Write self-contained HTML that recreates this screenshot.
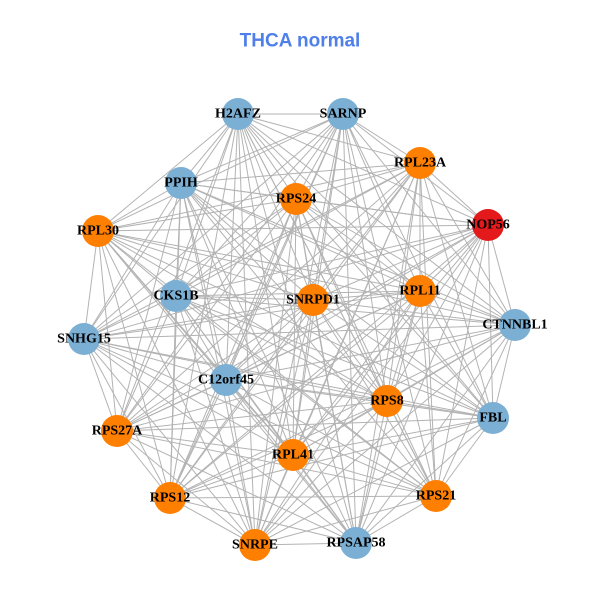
<!DOCTYPE html>
<html><head><meta charset="utf-8"><style>
html,body{margin:0;padding:0;background:#fff;}
svg text{font-family:"Liberation Serif",serif;font-weight:bold;font-size:14px;fill:#000;text-anchor:middle;dominant-baseline:central;}
</style></head><body>
<svg id="s" width="600" height="600" viewBox="0 0 600 600" xmlns="http://www.w3.org/2000/svg">
<rect width="600" height="600" fill="#fff"/>
<text x="300" y="41" style="font-family:'Liberation Sans',sans-serif;font-size:19px;fill:#4F7FE8;">THCA normal</text>
<g id="edges" stroke="#b3b3b3" stroke-width="1"></g>
<g id="nodes"></g>
<g>
<text x="238" y="114">H2AFZ</text>
<text x="343" y="114">SARNP</text>
<text x="420" y="163">RPL23A</text>
<text x="181" y="183">PPIH</text>
<text x="296" y="199">RPS24</text>
<text x="488" y="225">NOP56</text>
<text x="98" y="231">RPL30</text>
<text x="176" y="296">CKS1B</text>
<text x="313" y="300">SNRPD1</text>
<text x="420" y="291">RPL11</text>
<text x="515" y="325">CTNNBL1</text>
<text x="84" y="339">SNHG15</text>
<text x="226" y="380">C12orf45</text>
<text x="387" y="401">RPS8</text>
<text x="493" y="418">FBL</text>
<text x="117" y="431">RPS27A</text>
<text x="293" y="455">RPL41</text>
<text x="436" y="496">RPS21</text>
<text x="170" y="498">RPS12</text>
<text x="255" y="545">SNRPE</text>
<text x="356" y="543">RPSAP58</text>
</g>
</svg>
<script>
var B="#7BAFD4",O="#FF7F00",R="#E3191C";
var N=[[238,114,B],[343,114,B],[420,163,O],[181,183,B],[296,199,O],[488,225,R],[98,231,O],[176,296,B],[313,300,O],[420,291,O],[515,325,B],[84,339,B],[226,380,B],[387,401,O],[493,418,B],[117,431,O],[293,455,O],[436,496,O],[170,498,O],[255,545,O],[356,543,B]];
var ns="http://www.w3.org/2000/svg",E=document.getElementById("edges"),G=document.getElementById("nodes");
for(var i=0;i<N.length;i++)for(var j=i+1;j<N.length;j++){var l=document.createElementNS(ns,"line");l.setAttribute("x1",N[i][0]);l.setAttribute("y1",N[i][1]);l.setAttribute("x2",N[j][0]);l.setAttribute("y2",N[j][1]);E.appendChild(l);}
N.forEach(function(n){var c=document.createElementNS(ns,"circle");c.setAttribute("cx",n[0]);c.setAttribute("cy",n[1]);c.setAttribute("r",16);c.setAttribute("fill",n[2]);G.appendChild(c);});
</script>
</body></html>
